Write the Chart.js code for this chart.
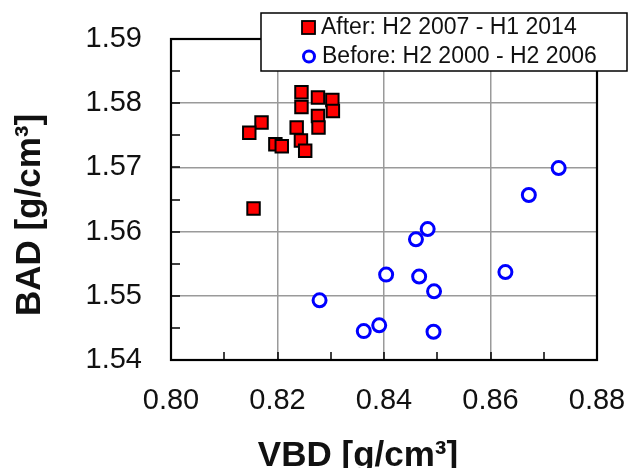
<!DOCTYPE html>
<html>
<head>
<meta charset="utf-8">
<script src="https://cdn.jsdelivr.net/npm/chart.js@4/dist/chart.umd.min.js"></script>
<style>
  html, body { margin: 0; padding: 0; background: #fff; }
  #wrap { width: 628px; height: 468px; }
</style>
</head>
<body>
<div id="wrap"><canvas id="scatter" width="628" height="468"></canvas></div>
<script>
// ---------- DATA ----------
const afterLabel  = 'After: H2 2007 - H1 2014';
const beforeLabel = 'Before: H2 2000 - H2 2006';

const vbdAfter = [0.8245, 0.8276, 0.8303, 0.8245, 0.8304, 0.8276, 0.8170, 0.8147,
                  0.8236, 0.8277, 0.8244, 0.8196, 0.8208, 0.8252, 0.8155];
const badAfter = [1.5817, 1.5809, 1.5805, 1.5794, 1.5788, 1.5780, 1.5770, 1.5754,
                  1.5762, 1.5762, 1.5742, 1.5736, 1.5733, 1.5726, 1.5636];

const vbdBefore = [0.8728, 0.8672, 0.8482, 0.8460, 0.8404, 0.8466,
                   0.8628, 0.8494, 0.8279, 0.8391, 0.8362, 0.8493];
const badBefore = [1.5699, 1.5657, 1.5604, 1.5588, 1.5533, 1.5530,
                   1.5537, 1.5507, 1.5493, 1.5454, 1.5445, 1.5444];

const xRange = [0.80, 0.88];
const yRange = [1.54, 1.59];
const xTitle = 'VBD [g/cm³]';
const yTitle = 'BAD [g/cm³]';

const toPts = (xs, ys) => xs.map((x, i) => ({ x: x, y: ys[i] }));

// frame, inward ticks, axis titles and the legend box
const decor = {
  id: 'decor',
  beforeDatasetsDraw(chart) {
    const ctx = chart.ctx, a = chart.chartArea;
    const sx = chart.scales.x, sy = chart.scales.y;
    ctx.save();
    ctx.strokeStyle = '#000';
    ctx.lineWidth = 1.5;
    // y ticks every 0.005
    for (let i = 0; i <= 10; i++) {
      const py = Math.round(sy.getPixelForValue(yRange[0] + i * 0.005));
      ctx.beginPath(); ctx.moveTo(a.left, py); ctx.lineTo(a.left + 9, py); ctx.stroke();
    }
    // x ticks every 0.01
    for (let i = 0; i <= 8; i++) {
      const px = Math.round(sx.getPixelForValue(xRange[0] + i * 0.01));
      ctx.beginPath(); ctx.moveTo(px, a.bottom); ctx.lineTo(px, a.bottom - 8); ctx.stroke();
    }
    ctx.lineWidth = 2.2;
    ctx.strokeRect(a.left, a.top, a.right - a.left, a.bottom - a.top);
    ctx.restore();
  },
  afterDraw(chart) {
    const ctx = chart.ctx;
    ctx.save();
    // axis titles
    ctx.fillStyle = '#111';
    ctx.font = 'bold 35px "Liberation Sans", Arial, sans-serif';
    ctx.textAlign = 'center';
    ctx.textBaseline = 'middle';
    ctx.fillText(xTitle, 358, 456);
    ctx.translate(30, 215);
    ctx.rotate(-Math.PI / 2);
    ctx.fillText(yTitle, 0, 0);
    ctx.restore();

    // legend
    ctx.save();
    ctx.fillStyle = '#fff';
    ctx.fillRect(261, 13, 366, 58);
    ctx.strokeStyle = '#000';
    ctx.lineWidth = 1.5;
    ctx.strokeRect(261, 13, 366, 58);

    ctx.fillStyle = '#ff0000';
    ctx.fillRect(302, 21, 13, 13);
    ctx.lineWidth = 1.8;
    ctx.strokeRect(302, 21, 13, 13);

    ctx.beginPath();
    ctx.arc(309, 56.5, 5.5, 0, Math.PI * 2);
    ctx.strokeStyle = '#0000ff';
    ctx.lineWidth = 3;
    ctx.stroke();

    ctx.fillStyle = '#111';
    ctx.font = '23px "Liberation Sans", Arial, sans-serif';
    ctx.textAlign = 'left';
    ctx.textBaseline = 'middle';
    ctx.fillText(afterLabel, 321, 28);
    ctx.fillText(beforeLabel, 322, 57);
    ctx.restore();
  }
};

new Chart(document.getElementById('scatter'), {
  type: 'scatter',
  data: {
    datasets: [
      {
        label: beforeLabel,
        data: toPts(vbdBefore, badBefore),
        pointStyle: 'circle',
        pointRadius: 6.5,
        borderWidth: 3,
        borderColor: '#0000ff',
        backgroundColor: '#ffffff'
      },
      {
        label: afterLabel,
        data: toPts(vbdAfter, badAfter),
        pointStyle: 'rect',
        pointRadius: 8.8,
        borderWidth: 2,
        borderColor: '#000000',
        backgroundColor: '#ff0000'
      }
    ]
  },
  options: {
    responsive: false,
    animation: false,
    events: [],
    layout: { padding: { top: 39, right: 31, left: 0, bottom: 0 } },
    plugins: { legend: { display: false }, tooltip: { enabled: false } },
    scales: {
      x: {
        type: 'linear',
        min: xRange[0], max: xRange[1],
        afterFit: s => { s.height = 108; s.paddingLeft = 0; s.paddingRight = 0; },
        border: { display: false },
        grid: { color: '#9a9a9a', lineWidth: 1.5, drawTicks: false },
        ticks: {
          stepSize: 0.02, padding: 24, color: '#111',
          font: { family: '"Liberation Sans", Arial, sans-serif', size: 29 },
          callback: v => Number(v).toFixed(2)
        }
      },
      y: {
        type: 'linear',
        min: yRange[0], max: yRange[1],
        afterFit: s => { s.width = 171; s.paddingTop = 0; s.paddingBottom = 0; },
        border: { display: false },
        grid: { color: '#9a9a9a', lineWidth: 1.5, drawTicks: false },
        ticks: {
          stepSize: 0.01, padding: 29, color: '#111',
          font: { family: '"Liberation Sans", Arial, sans-serif', size: 29 },
          callback: v => Number(v).toFixed(2)
        }
      }
    }
  },
  plugins: [decor]
});
</script>
</body>
</html>
